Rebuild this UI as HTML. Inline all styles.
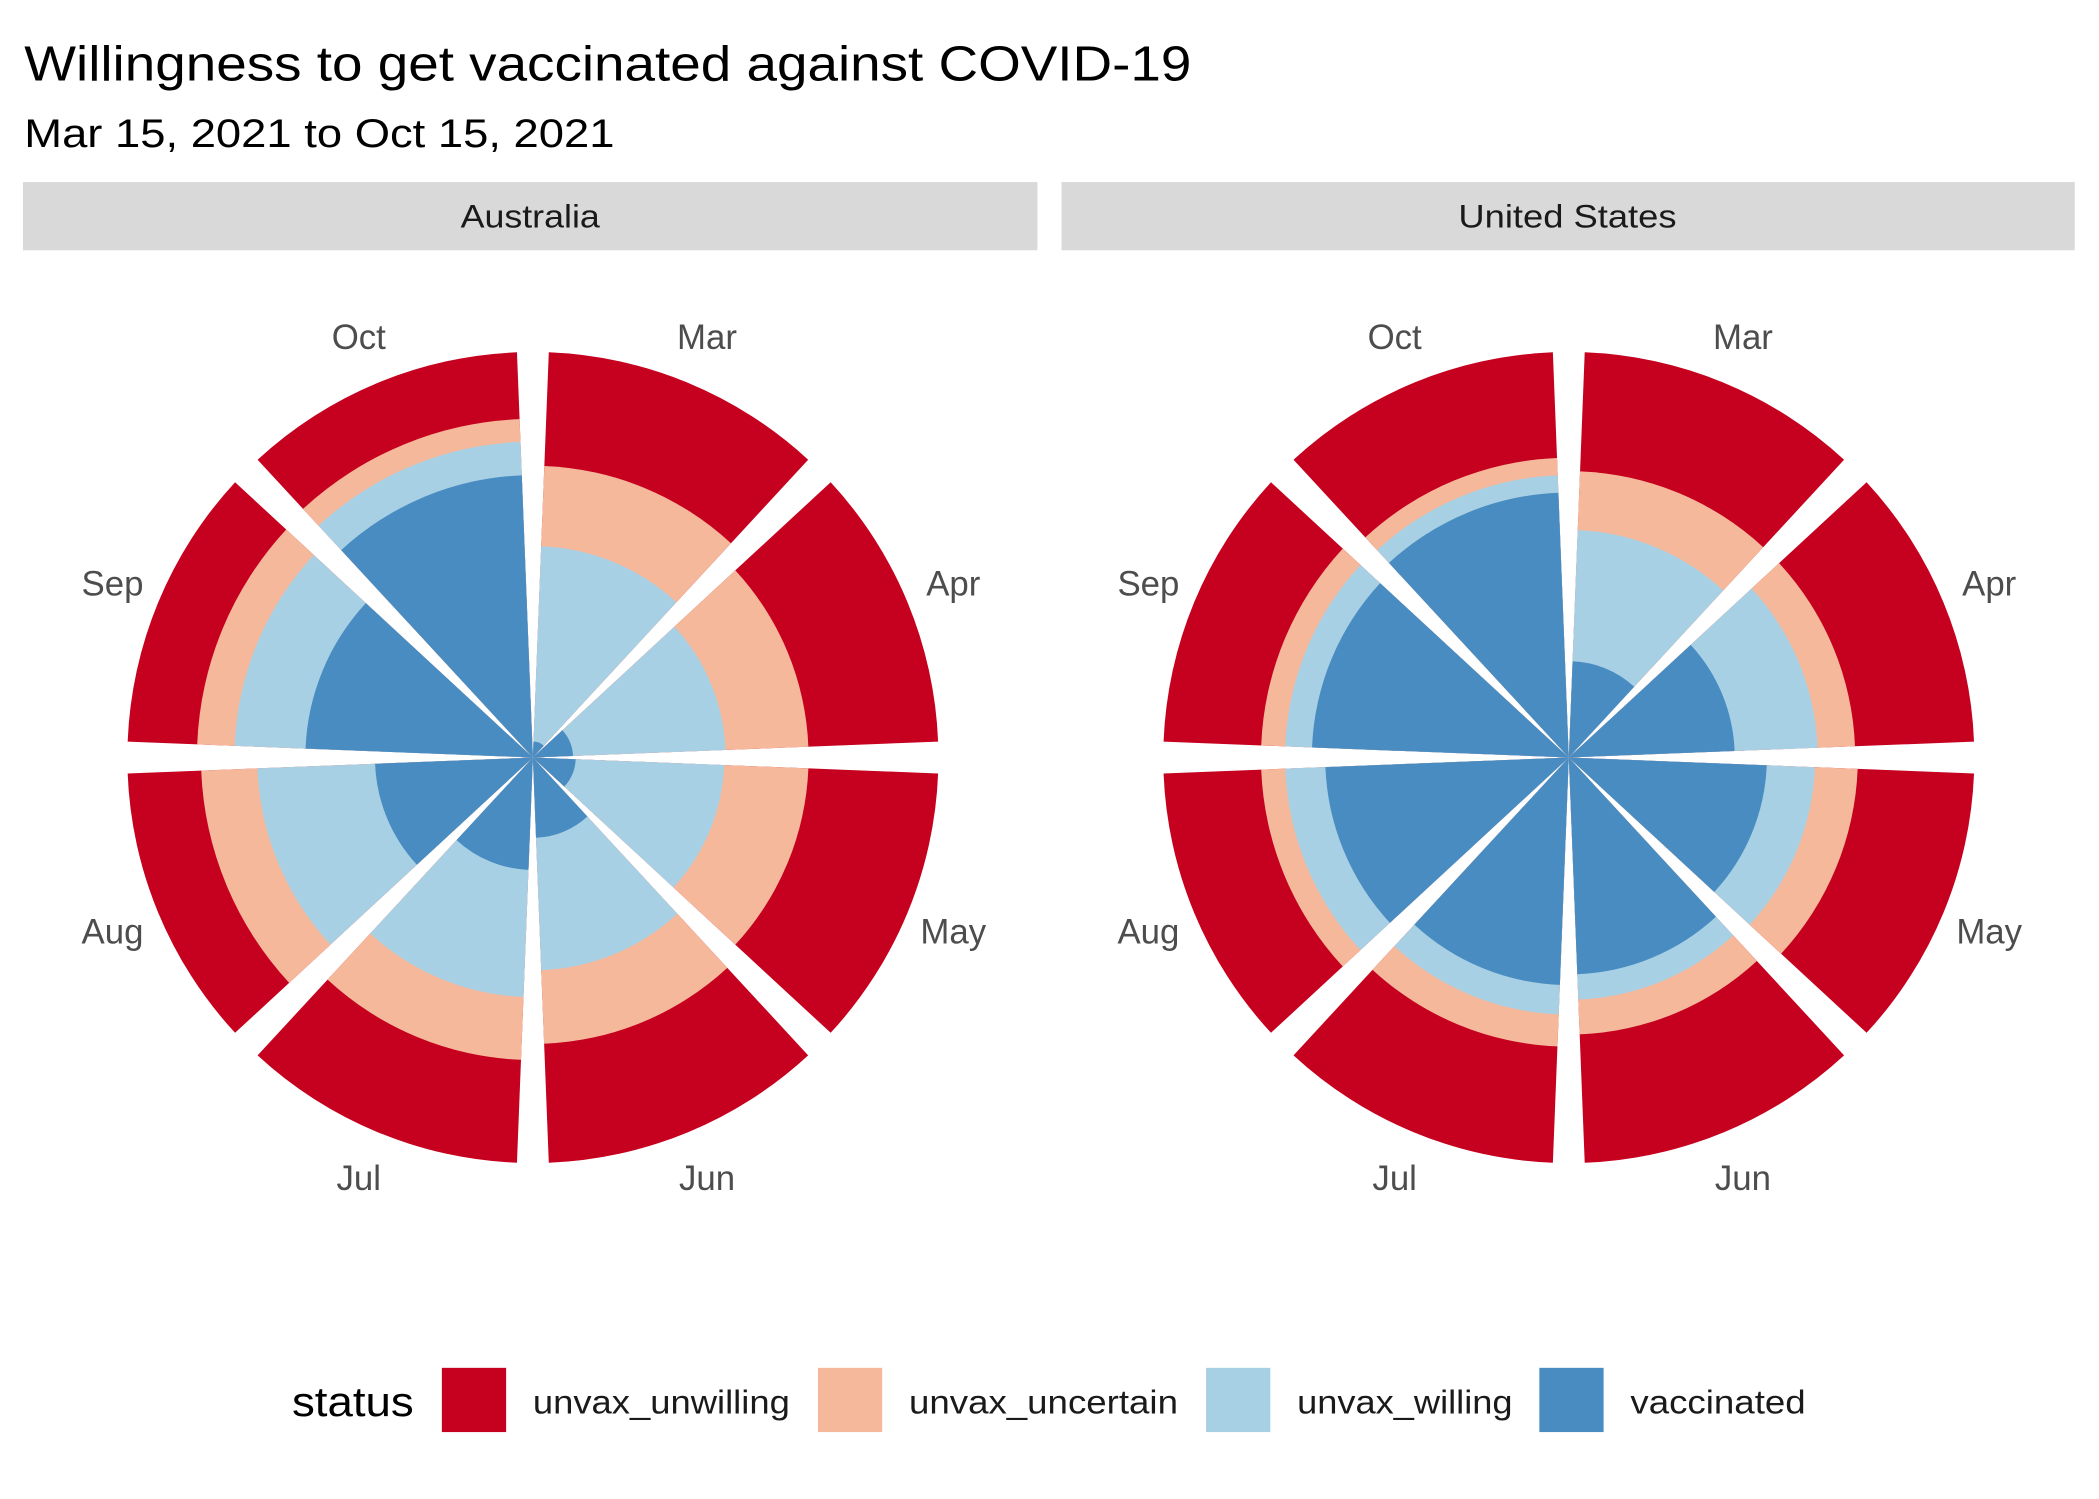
<!DOCTYPE html>
<html><head><meta charset="utf-8">
<style>
html,body{margin:0;padding:0;background:#fff;}
svg{display:block;font-family:"Liberation Sans",sans-serif;}
</style></head>
<body>
<svg id="s" width="2099" height="1499" viewBox="0 0 1568 1120" xmlns="http://www.w3.org/2000/svg">
<rect width="1568" height="1120" fill="#fff"/>
<text x="18" y="60" font-size="37" fill="#000" textLength="872" lengthAdjust="spacingAndGlyphs">Willingness to get vaccinated against COVID-19</text>
<text x="18" y="110" font-size="30" fill="#000" textLength="441" lengthAdjust="spacingAndGlyphs">Mar 15, 2021 to Oct 15, 2021</text>
<rect x="17" y="136" width="758" height="51" fill="#d9d9d9"/>
<text x="396" y="170" font-size="24" fill="#1a1a1a" text-anchor="middle" textLength="104" lengthAdjust="spacingAndGlyphs">Australia</text>
<rect x="793" y="136" width="757" height="51" fill="#d9d9d9"/>
<text x="1171" y="170" font-size="24" fill="#1a1a1a" text-anchor="middle" textLength="163" lengthAdjust="spacingAndGlyphs">United States</text>
<g id="charts"></g>
<text x="218" y="1058" font-size="31" fill="#000" textLength="91" lengthAdjust="spacingAndGlyphs">status</text>
<rect x="330" y="1022" width="48" height="48" fill="#c6001f"/>
<text x="398" y="1056" font-size="25" fill="#1a1a1a" textLength="192" lengthAdjust="spacingAndGlyphs">unvax_unwilling</text>
<rect x="611" y="1022" width="48" height="48" fill="#f5b89b"/>
<text x="679" y="1056" font-size="25" fill="#1a1a1a" textLength="201" lengthAdjust="spacingAndGlyphs">unvax_uncertain</text>
<rect x="901" y="1022" width="48" height="48" fill="#a8d0e4"/>
<text x="969" y="1056" font-size="25" fill="#1a1a1a" textLength="161" lengthAdjust="spacingAndGlyphs">unvax_willing</text>
<rect x="1150" y="1022" width="48" height="48" fill="#488cc1"/>
<text x="1218" y="1056" font-size="25" fill="#1a1a1a" textLength="131" lengthAdjust="spacingAndGlyphs">vaccinated</text>
</svg>
<script>
(function(){
var g=document.getElementById('charts');
var cols=['#488cc1','#a8d0e4','#f5b89b','#c6001f'];
var months=['Mar','Apr','May','Jun','Jul','Aug','Sep','Oct'];
var R=303;
var data={
 au:{cx:398,cy:566,r:[[12,158,218],[30,144,206],[32,143,206],[60,159,214],[84,179,226],[118,206,248],[170,223,251],[211,236,253]]},
 us:{cx:1172,cy:566,r:[[72,170,214],[124,186,214],[148,184,216],[162,181,207],[170,192,216],[182,212,230],[192,212,230],[198,211,224]]}
};
function pt(cx,cy,r,a){var t=a*Math.PI/180;return [cx+r*Math.sin(t),cy-r*Math.cos(t)];}
function wedge(cx,cy,r,a0,a1){var p0=pt(cx,cy,r,a0),p1=pt(cx,cy,r,a1);
 return 'M'+cx+','+cy+'L'+p0[0].toFixed(2)+','+p0[1].toFixed(2)+'A'+r+','+r+' 0 0 1 '+p1[0].toFixed(2)+','+p1[1].toFixed(2)+'Z';}
var h='';
for(var k in data){var d=data[k];
 for(var i=0;i<8;i++){var a0=i*45+2.25,a1=i*45+42.75;
  var rs=[d.r[i][0],d.r[i][1],d.r[i][2],R];
  for(var j=3;j>=0;j--) h+='<path d="'+wedge(d.cx,d.cy,rs[j],a0,a1)+'" fill="'+cols[j]+'"/>';
  var lp=pt(d.cx,d.cy,340,i*45+22.5);
  h+='<text x="'+lp[0].toFixed(1)+'" y="'+(lp[1]+9).toFixed(1)+'" font-size="26" fill="#4d4d4d" text-anchor="middle">'+months[i]+'</text>';
 }}
g.innerHTML=h;
})();
</script>
</body></html>
